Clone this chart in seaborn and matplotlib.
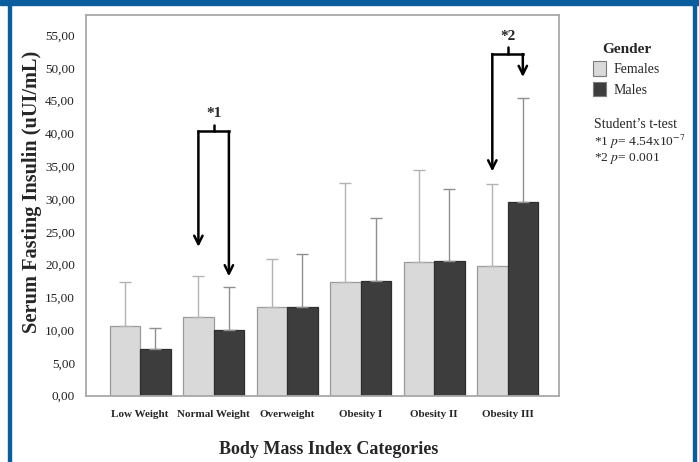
import matplotlib
matplotlib.use("Agg")
import matplotlib.pyplot as plt
from matplotlib.patches import Rectangle
import seaborn as sns
import pandas as pd

# BMI categories and mean (+SD) serum fasting insulin by gender
categories = ["Low Weight", "Normal Weight", "Overweight", "Obesity I", "Obesity II", "Obesity III"]
genders = ["Females", "Males"]
female_mean = [10.6, 12.0, 13.45, 17.35, 20.4, 19.85]
male_mean = [7.1, 10.05, 13.5, 17.5, 20.6, 29.6]
female_sd = [6.8, 6.3, 7.4, 15.1, 14.0, 12.4]
male_sd = [3.15, 6.5, 8.1, 9.6, 10.9, 15.85]
y_ticks = [0, 5, 10, 15, 20, 25, 30, 35, 40, 45, 50, 55]

df = pd.DataFrame({
    "BMI": categories * 2,
    "Gender": ["Females"] * len(categories) + ["Males"] * len(categories),
    "Insulin": female_mean + male_mean,
})

sns.set_style("white")
plt.rcParams["font.family"] = ["Liberation Serif", "DejaVu Serif"]
plt.rcParams["mathtext.fontset"] = "stix"

fig = plt.figure(figsize=(6.99, 4.62), dpi=100)
ax = fig.add_axes([86 / 699, 1 - 395.7 / 462, (559 - 86) / 699, (395.7 - 15) / 462])

palette = {"Females": "#d9d9d9", "Males": "#3d3d3d"}
sns.barplot(data=df, x="BMI", y="Insulin", hue="Gender", order=categories,
            hue_order=genders, palette=palette, errorbar=None, width=0.83,
            gap=0, saturation=1, ax=ax)

# style bar edges and add upper SD whiskers at each bar
sd_by_gender = {"Females": female_sd, "Males": male_sd}
mean_by_gender = {"Females": female_mean, "Males": male_mean}
edge = {"Females": "#9a9a9a", "Males": "#2e2e2e"}
err_col = {"Females": "#b3b3b3", "Males": "#8f8f8f"}
centers = {}
for cont, g in zip(ax.containers, genders):
    xs = []
    for bar in cont:
        bar.set_edgecolor(edge[g])
        bar.set_linewidth(0.9)
        xs.append(bar.get_x() + bar.get_width() / 2)
    centers[g] = xs
    ax.errorbar(xs, mean_by_gender[g], yerr=[[0] * len(xs), sd_by_gender[g]],
                fmt="none", ecolor=err_col[g], elinewidth=1.0, capsize=4,
                capthick=1.0, zorder=1)

ax.set_xlim(-0.737, 5.70)
ax.set_ylim(0, 58.05)
ax.set_yticks(y_ticks)
ax.set_yticklabels([f"{v:.2f}".replace(".", ",") for v in y_ticks], fontsize=9.5,
                   color="#222222")
ax.set_xticks(range(len(categories)))
ax.set_xticklabels(categories, fontsize=8, fontweight="bold")
ax.tick_params(axis="both", direction="out", color="#9a9a9a", width=0.9,
               length=6, pad=2)
ax.tick_params(axis="x", length=7, pad=3)
for s in ax.spines.values():
    s.set_visible(True)
    s.set_color("#a8a8a8")
    s.set_linewidth(1.3)
ax.set_xlabel("")
ax.set_ylabel("")

fig.text(32 / 699, 1 - 192 / 462, "Serum Fasting Insulin (uUI/mL)", rotation=90,
         ha="center", va="center", fontsize=14.7, fontweight="bold")
fig.text(329 / 699, 1 - 449 / 462, "Body Mass Index Categories",
         ha="center", va="center", fontsize=13, fontweight="bold")

# significance brackets with arrows
def bracket(i, y_bar, y_left, y_right, label):
    xl, xr = centers["Females"][i], centers["Males"][i]
    xm = (xl + xr) / 2
    ax.plot([xl, xr], [y_bar, y_bar], color="black", lw=1.8,
            solid_capstyle="projecting", zorder=5)
    ax.plot([xm, xm], [y_bar, y_bar + 1.0], color="black", lw=1.8, zorder=5)
    for x, yt in ((xl, y_left), (xr, y_right)):
        ax.annotate("", xy=(x, yt), xytext=(x, y_bar),
                    arrowprops=dict(arrowstyle="->", lw=1.8, color="black",
                                    mutation_scale=15, shrinkA=0, shrinkB=0),
                    zorder=5)
    ax.text(xm, y_bar + 2.7, label, ha="center", va="center", fontsize=11,
            fontweight="bold")

bracket(1, 40.3, 22.7, 18.2, "*1")
bracket(5, 52.1, 34.2, 48.6, "*2")

# legend
sns.move_legend(ax, "upper left", bbox_to_anchor=(580 / 699, 1 - 30 / 462),
                bbox_transform=fig.transFigure, title="Gender", frameon=False,
                fontsize=10, title_fontsize=11, handlelength=0.95,
                handleheight=1.2, handletextpad=0.6, labelspacing=0.42)
leg = ax.get_legend()
leg.get_title().set_fontweight("bold")
for h in leg.legend_handles:
    h.set_edgecolor("#7a7a7a")
    h.set_linewidth(0.8)

fig.text(594 / 699, 1 - 125 / 462, "Student’s t-test", fontsize=10, va="center")
fig.text(594 / 699, 1 - 142 / 462, r"*1 $p$= 4.54x10$^{-7}$", fontsize=9.7, va="center")
fig.text(594 / 699, 1 - 159 / 462, r"*2 $p$= 0.001", fontsize=9.7, va="center")

# blue frame
blue = "#0b5e9e"
fig.patches.append(Rectangle((0, 1 - 4.5 / 462), 1, 4.5 / 462, transform=fig.transFigure,
                             color=blue, zorder=10))
fig.patches.append(Rectangle((8.3 / 699, 0), 2.7 / 699, 1, transform=fig.transFigure,
                             color=blue, zorder=10))
fig.patches.append(Rectangle((693 / 699, 0), 3 / 699, 1, transform=fig.transFigure,
                             color=blue, zorder=10))

fig.savefig("out.png", dpi=100)
